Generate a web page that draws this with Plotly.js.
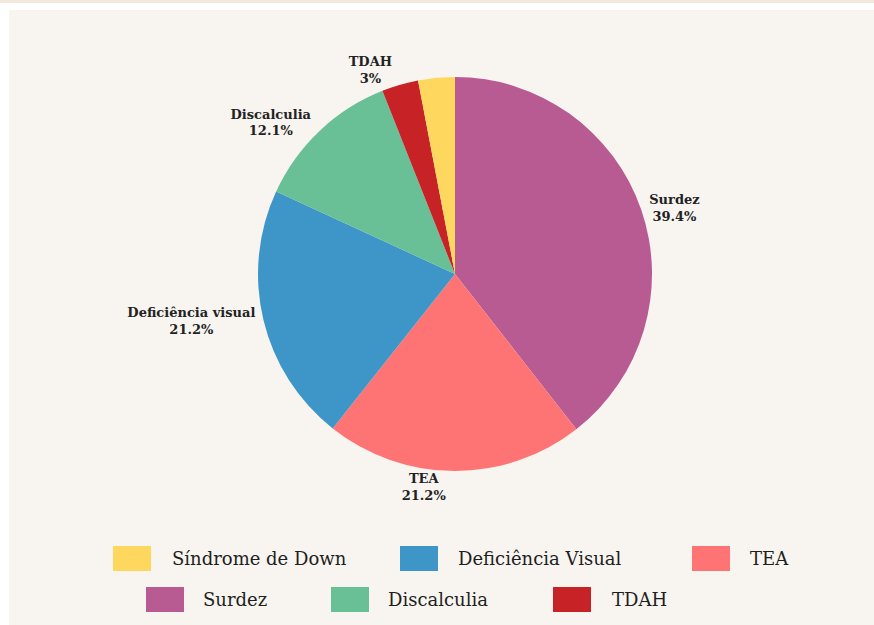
<!DOCTYPE html>
<html>
<head>
<meta charset="utf-8">
<script src="https://cdn.plot.ly/plotly-3.0.1.min.js"></script>
<style>
html,body{margin:0;padding:0;background:#ffffff;}
#chart{width:874px;height:625px;}
</style>
</head>
<body>
<div id="chart"></div>
<script>
// slice data (clockwise from 12 o'clock)
const sliceLabels = ["Surdez", "TEA", "Deficiência visual", "Discalculia", "TDAH", "Síndrome de Down"];
const sliceValues = [39.4, 21.2, 21.2, 12.1, 3, 3];
const sliceColors = ["#b95b93", "#fe7474", "#3d96c7", "#69bf96", "#c72225", "#fdd75e"];
const sliceShowText = [true, true, true, true, true, false];

// custom legend (as shown below the pie)
const legendRow1 = ["Síndrome de Down", "Deficiência Visual", "TEA"];
const legendRow1Colors = ["#fdd75e", "#3d96c7", "#fe7474"];
const legendRow2 = ["Surdez", "Discalculia", "TDAH"];
const legendRow2Colors = ["#b95b93", "#69bf96", "#c72225"];

const W = 874, H = 625;
const px = x => x / W;
const py = y => 1 - y / H;

const FONT = "DejaVu Serif";

const trace = {
  type: "pie",
  labels: sliceLabels,
  values: sliceValues,
  sort: false,
  direction: "clockwise",
  rotation: 0,
  marker: {colors: sliceColors, line: {width: 0}},
  textposition: "outside",
  texttemplate: sliceShowText.map(s => s ? "%{label}<br>%{percent}" : ""),
  textfont: {family: FONT, size: 13, color: "#222222", weight: "bold"},
  hoverinfo: "label+percent",
  showlegend: false,
  automargin: false,
  domain: {x: [px(258), px(652)], y: [py(471), py(77)]}
};

const shapes = [
  {type: "rect", xref: "paper", yref: "paper", x0: 0, x1: 1, y0: py(3), y1: 1,
   fillcolor: "#f2e7db", line: {width: 0}, layer: "below"},
  {type: "rect", xref: "paper", yref: "paper", x0: px(9), x1: 1, y0: 0, y1: py(10),
   fillcolor: "#f8f5f0", line: {width: 0}, layer: "below"}
];
const annotations = [];

function addLegendRow(names, colors, swatchX, textX, yTop, yBot) {
  names.forEach((n, i) => {
    shapes.push({type: "rect", xref: "paper", yref: "paper",
      x0: px(swatchX[i]), x1: px(swatchX[i] + 38), y0: py(yBot), y1: py(yTop),
      fillcolor: colors[i], line: {width: 0}});
    annotations.push({xref: "paper", yref: "paper", x: px(textX[i]), y: py((yTop + yBot) / 2),
      xanchor: "left", yanchor: "middle", showarrow: false, text: n,
      font: {family: FONT, size: 18, color: "#1e1e1e"}});
  });
}
addLegendRow(legendRow1, legendRow1Colors, [113, 400, 692], [170, 456, 748], 546, 571);
addLegendRow(legendRow2, legendRow2Colors, [146, 331, 553], [201, 386, 610], 587, 612);

const layout = {
  width: W, height: H,
  margin: {l: 0, r: 0, t: 0, b: 0},
  paper_bgcolor: "#ffffff",
  showlegend: false,
  shapes: shapes,
  annotations: annotations
};

Plotly.newPlot("chart", [trace], layout, {displayModeBar: false, staticPlot: true});
</script>
</body>
</html>
